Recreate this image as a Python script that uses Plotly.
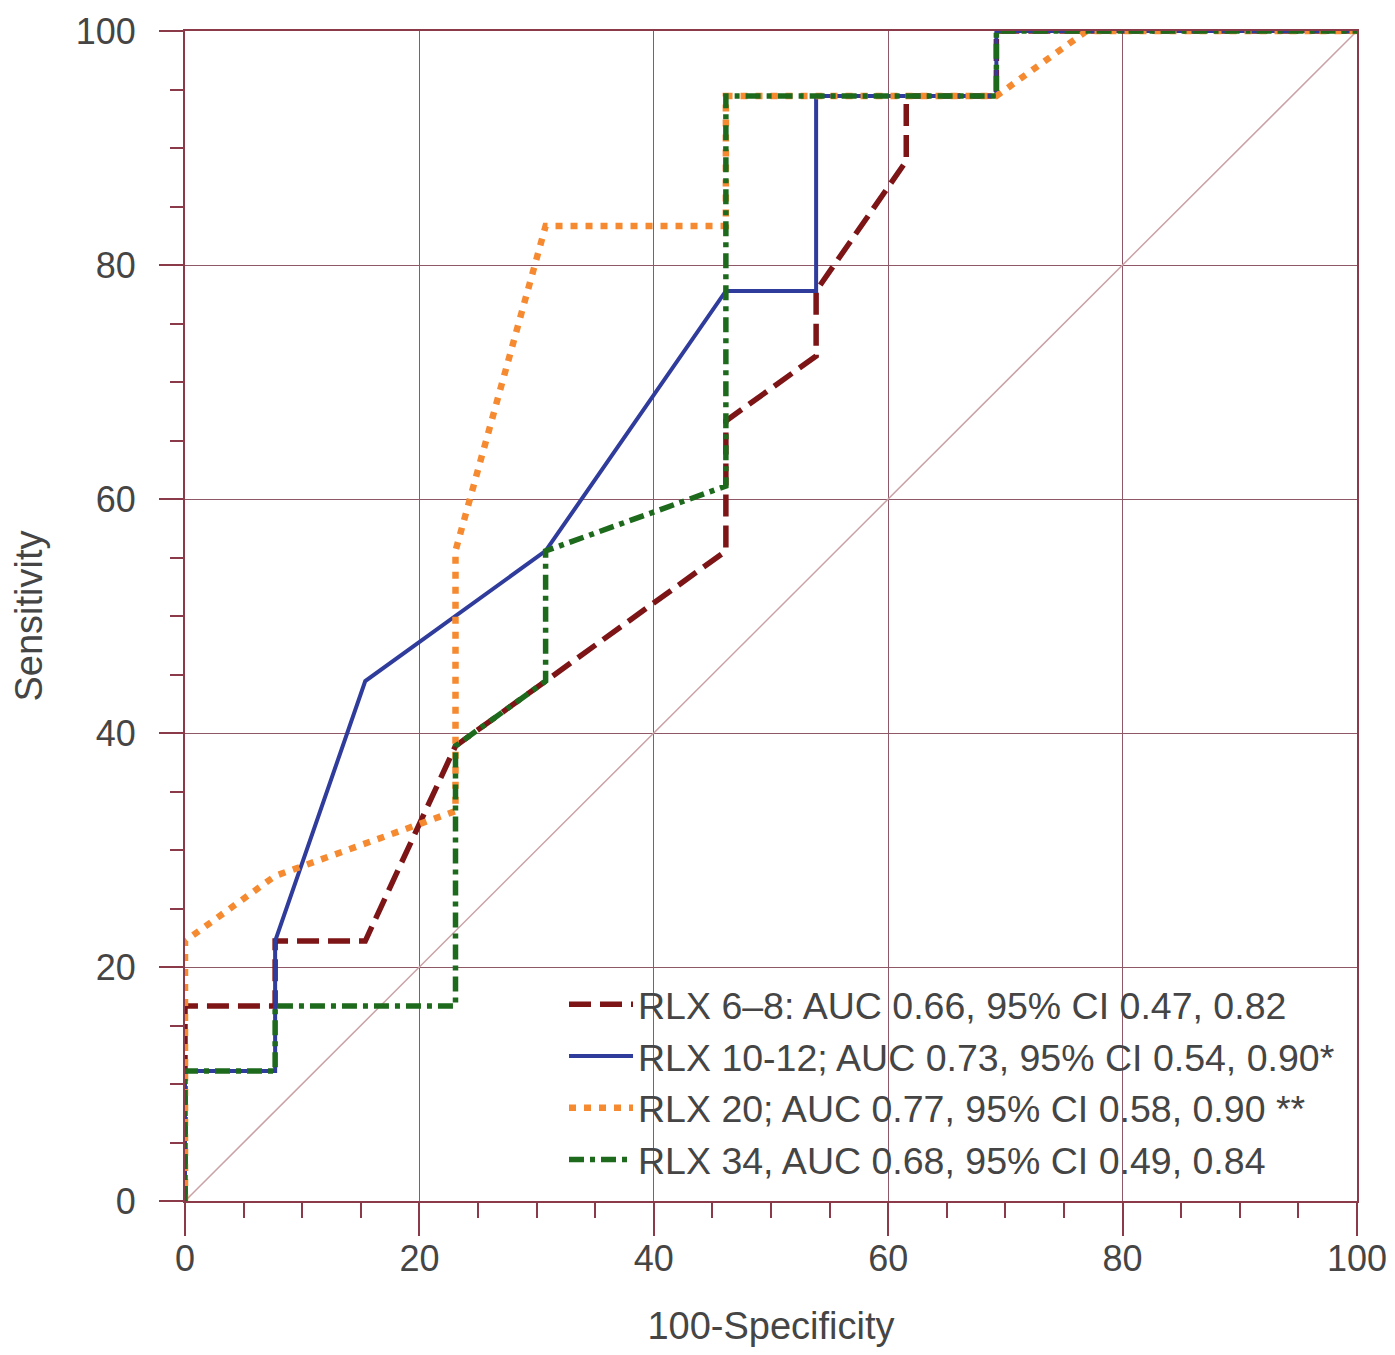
import plotly.graph_objects as go

# ROC curve data (100-Specificity, Sensitivity)
rlx68_x = [0, 0, 7.69, 7.69, 15.38, 23.08, 30.77, 46.15, 46.15, 53.85, 53.85, 61.54, 61.54, 69.23, 69.23, 100]
rlx68_y = [0, 16.67, 16.67, 22.22, 22.22, 38.89, 44.44, 55.56, 66.67, 72.22, 77.78, 88.89, 94.44, 94.44, 100, 100]

rlx1012_x = [0, 0, 7.69, 7.69, 15.38, 30.77, 46.15, 53.85, 53.85, 69.23, 69.23, 100]
rlx1012_y = [0, 11.11, 11.11, 22.22, 44.44, 55.56, 77.78, 77.78, 94.44, 94.44, 100, 100]

rlx20_x = [0, 0, 7.69, 15.38, 23.08, 23.08, 30.77, 46.15, 46.15, 69.23, 76.92, 100]
rlx20_y = [0, 22.22, 27.78, 30.56, 33.33, 55.56, 83.33, 83.33, 94.44, 94.44, 100, 100]

rlx34_x = [0, 0, 7.69, 7.69, 23.08, 23.08, 30.77, 30.77, 46.15, 46.15, 69.23, 69.23, 100]
rlx34_y = [0, 11.11, 11.11, 16.67, 16.67, 38.89, 44.44, 55.56, 61.11, 94.44, 94.44, 100, 100]

diag_x = [0, 100]
diag_y = [0, 100]

names = [
    "RLX 6\u20138: AUC 0.66, 95% CI 0.47, 0.82",
    "RLX 10-12; AUC 0.73, 95% CI 0.54, 0.90*",
    "RLX 20; AUC 0.77, 95% CI 0.58, 0.90 **",
    "RLX 34, AUC 0.68, 95% CI 0.49, 0.84",
]

tick_vals = [0, 20, 40, 60, 80, 100]
tick_text = ["0", "20", "40", "60", "80", "100"]

FONT = "Liberation Sans, Arial, sans-serif"
TXT = "#454545"
AXC = "#8b3a4a"
GRIDC = "#8e5866"

fig = go.Figure()

fig.add_trace(go.Scatter(x=diag_x, y=diag_y, mode="lines", showlegend=False,
                         line=dict(color="#caa2a6", width=1.5), hoverinfo="skip"))

fig.add_trace(go.Scatter(x=rlx68_x, y=rlx68_y, mode="lines", name=names[0],
                         line=dict(color="#7d1416", width=5.5, dash="22px,9px")))
fig.add_trace(go.Scatter(x=rlx1012_x, y=rlx1012_y, mode="lines", name=names[1],
                         line=dict(color="#2f3c9c", width=4)))
fig.add_trace(go.Scatter(x=rlx20_x, y=rlx20_y, mode="lines", name=names[2],
                         line=dict(color="#f58a30", width=6.5, dash="7px,8px")))
fig.add_trace(go.Scatter(x=rlx34_x, y=rlx34_y, mode="lines", name=names[3],
                         line=dict(color="#1d6a1d", width=5.5, dash="15px,6px,5px,6px")))

axis_common = dict(
    range=[0, 100],
    tickvals=tick_vals,
    ticktext=tick_text,
    showgrid=True,
    gridcolor=GRIDC,
    gridwidth=1,
    zeroline=False,
    showline=True,
    linecolor=AXC,
    linewidth=2,
    mirror=True,
    ticks="outside",
    tickcolor=AXC,
    tickwidth=1.5,
    automargin=False,
    tickfont=dict(family=FONT, size=36, color=TXT),
    minor=dict(dtick=5, ticks="outside", tickcolor=AXC, tickwidth=1.5, showgrid=False),
)

fig.update_layout(
    width=1395,
    height=1355,
    margin=dict(l=177, r=46, t=23, b=162),
    paper_bgcolor="white",
    plot_bgcolor="white",
    font=dict(family=FONT, color=TXT, size=37),
    xaxis=dict(**axis_common, ticklen=33, ticklabelstandoff=-8,
               title=dict(text="100-Specificity", font=dict(family=FONT, size=38, color=TXT), standoff=34)),
    yaxis=dict(**axis_common, ticklen=24, ticklabelstandoff=16,
               title=dict(text="Sensitivity", font=dict(family=FONT, size=38, color=TXT), standoff=22)),
    legend=dict(
        x=0.3234, y=0.009, xanchor="left", yanchor="bottom",
        bgcolor="rgba(0,0,0,0)",
        font=dict(family=FONT, size=37.5, color=TXT),
        itemwidth=64,
        tracegroupgap=0,
    ),
    showlegend=True,
)
fig.update_xaxes(minor_ticklen=15)
fig.update_yaxes(minor_ticklen=13)

fig.write_html("out.html")
